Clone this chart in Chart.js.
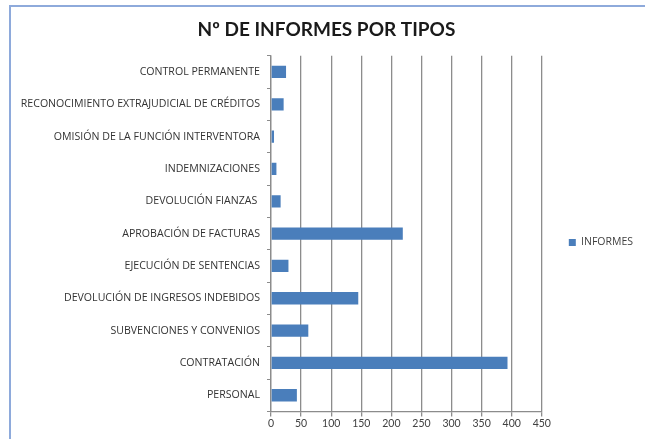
<!DOCTYPE html>
<html><head><meta charset="utf-8">
<script src="https://cdn.jsdelivr.net/npm/chart.js@4"></script>
<style>
html,body{margin:0;padding:0;background:#fff;}
#wrap{position:relative;width:645px;height:439px;overflow:hidden;}
#frame{position:absolute;left:9px;top:5px;width:700px;height:500px;border-left:2px solid #8eaadb;border-top:2px solid #8eaadb;box-sizing:border-box;}
canvas{position:absolute;left:0;top:0;}
</style></head>
<body><div id="wrap"><div id="frame"></div><canvas id="c" width="645" height="439"></canvas></div>
<script>
const categories = [
  "CONTROL PERMANENTE",
  "RECONOCIMIENTO EXTRAJUDICIAL DE CRÉDITOS",
  "OMISIÓN DE LA FUNCIÓN INTERVENTORA",
  "INDEMNIZACIONES",
  "DEVOLUCIÓN FIANZAS ",
  "APROBACIÓN DE FACTURAS",
  "EJECUCIÓN DE SENTENCIAS",
  "DEVOLUCIÓN DE INGRESOS INDEBIDOS",
  "SUBVENCIONES Y CONVENIOS",
  "CONTRATACIÓN",
  "PERSONAL"
];
const informes = [25, 21, 5, 9, 16, 219, 29, 145, 62, 393, 43];
const seriesName = "INFORMES";
const chartTitle = "Nº DE INFORMES POR TIPOS";
const xMin = 0, xMax = 450, xStep = 50;

const FONT = "Lato, 'Open Sans', sans-serif";
const LFONT = "'Open Sans', sans-serif";
new Chart(document.getElementById('c'), {
  type: 'bar',
  data: {
    labels: categories,
    datasets: [{
      label: seriesName,
      data: informes,
      backgroundColor: '#4a7ebb',
      borderWidth: 0,
      categoryPercentage: 1,
      barPercentage: 0.38
    }]
  },
  options: {
    indexAxis: 'y',
    responsive: false,
    animation: false,
    devicePixelRatio: 1,
    layout: { padding: { left: 10, right: 2, top: 0, bottom: 8 } },
    plugins: {
      title: {
        display: true,
        text: chartTitle,
        color: '#1a1a1a',
        font: { family: FONT, size: 19, weight: 'bold' },
        padding: { top: 18, bottom: 15 }
      },
      legend: {
        position: 'right',
        title: { display: true, text: ' ', font: { family: LFONT, size: 10 }, padding: { top: 21, bottom: 21 } },
        labels: {
          boxWidth: 7, boxHeight: 7,
          color: '#404040',
          font: { family: LFONT, size: 10.5 },
          padding: 27
        }
      },
      tooltip: { enabled: false }
    },
    scales: {
      x: {
        min: xMin, max: xMax,
        ticks: { stepSize: xStep, color: '#404040', font: { family: FONT, size: 10.5 }, padding: 1 },
        grid: { color: '#8c8c8c', lineWidth: 1.3, tickLength: 5, drawTicks: true },
        border: { color: '#8c8c8c', width: 1.3 }
      },
      y: {
        afterFit: (s) => { s.width = 261; },
        ticks: { color: '#333333', font: { family: LFONT, size: 10.6 }, padding: 7, autoSkip: false },
        grid: { drawOnChartArea: false, drawTicks: true, tickLength: 4, color: '#8c8c8c', offset: true },
        border: { color: '#8c8c8c', width: 1.3 }
      }
    }
  }
});
</script></body></html>
